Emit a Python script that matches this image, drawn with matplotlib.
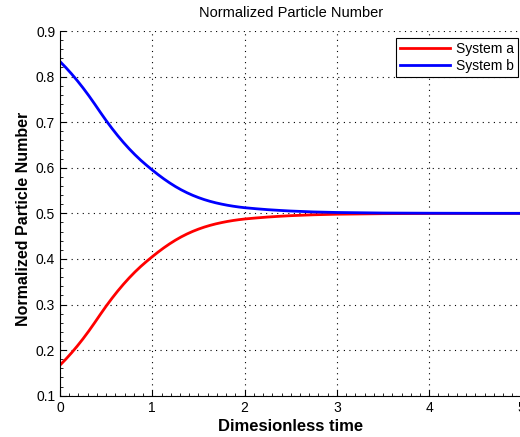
import matplotlib.pyplot as plt
from matplotlib.ticker import MultipleLocator

plt.rcParams['font.family'] = ['Liberation Sans', 'DejaVu Sans']

# values
time = [0, 0.0625, 0.125, 0.1875, 0.25, 0.3125, 0.375, 0.4375, 0.5, 0.5625,
        0.625, 0.6875, 0.75, 0.8125, 0.875, 0.9375, 1.0, 1.0625, 1.125, 1.1875,
        1.25, 1.3125, 1.375, 1.4375, 1.5, 1.5625, 1.625, 1.6875, 1.75, 1.8125,
        1.875, 1.9375, 2.0, 2.125, 2.25, 2.375, 2.5, 2.75, 3.0, 3.5, 4.0, 4.5, 5.0]
system_a = [0.167, 0.180, 0.194, 0.209, 0.225, 0.242, 0.260, 0.2785, 0.2965, 0.3135,
            0.3295, 0.3445, 0.3585, 0.3715, 0.3835, 0.3945, 0.405, 0.415, 0.4244, 0.4331,
            0.4411, 0.4483, 0.4547, 0.4604, 0.4654, 0.4698, 0.4736, 0.4769, 0.4797, 0.4822,
            0.4843, 0.4861, 0.4876, 0.4899, 0.4919, 0.4935, 0.4949, 0.4969, 0.4981, 0.4993,
            0.4997, 0.4999, 0.5]
system_b = [0.833, 0.820, 0.806, 0.791, 0.775, 0.758, 0.740, 0.7215, 0.7035, 0.6865,
            0.6705, 0.6555, 0.6415, 0.6285, 0.6165, 0.6055, 0.595, 0.585, 0.5756, 0.5669,
            0.5589, 0.5517, 0.5453, 0.5396, 0.5346, 0.5302, 0.5264, 0.5231, 0.5203, 0.5178,
            0.5157, 0.5139, 0.5124, 0.5101, 0.5081, 0.5065, 0.5051, 0.5031, 0.5019, 0.5007,
            0.5003, 0.5001, 0.5]
labels = ['System a', 'System b']
xticks = [0, 1, 2, 3, 4, 5]
yticks = [0.1, 0.2, 0.3, 0.4, 0.5, 0.6, 0.7, 0.8, 0.9]

fig = plt.figure(figsize=(5.2, 4.37), dpi=100)
ax = fig.add_axes([60 / 520, 41.3 / 437, 461.5 / 520, 364.7 / 437])

ax.plot(time, system_a, color='#ff0000', lw=2, label=labels[0])
ax.plot(time, system_b, color='#0000ff', lw=2, label=labels[1])

ax.set_xlim(0, 5)
ax.set_ylim(0.1, 0.9)
ax.set_xticks(xticks)
ax.set_xticklabels([str(t) for t in xticks])
ax.set_yticks(yticks)
ax.set_yticklabels(['%.1f' % t for t in yticks])
ax.xaxis.set_minor_locator(MultipleLocator(0.1))
ax.yaxis.set_minor_locator(MultipleLocator(0.02))
ax.tick_params(which='both', direction='in', labelsize=10, top=False, right=False)
ax.tick_params(which='major', length=4)
ax.tick_params(which='minor', length=2)
ax.grid(True, which='major', color='black', linestyle=(0, (1, 4)), linewidth=0.8)
ax.spines['top'].set_visible(False)
ax.spines['right'].set_visible(False)

ax.set_title('Normalized Particle Number', fontsize=10.5, pad=10)
ax.set_xlabel('Dimesionless time', fontsize=12, fontweight='bold', labelpad=3)
ax.set_ylabel('Normalized Particle Number', fontsize=11.5, fontweight='bold')
ax.yaxis.set_label_coords(-29 / 461.5, 0.484)

leg = ax.legend(loc='upper right', bbox_to_anchor=(518 / 520, 1 - 38 / 437),
                bbox_transform=fig.transFigure, fontsize=10, fancybox=False,
                framealpha=1, edgecolor='black', borderpad=0.3, labelspacing=0.2,
                handlelength=3.6, handletextpad=0.4, borderaxespad=0)
leg.get_frame().set_linewidth(0.8)

fig.savefig('out.png', dpi=100)
